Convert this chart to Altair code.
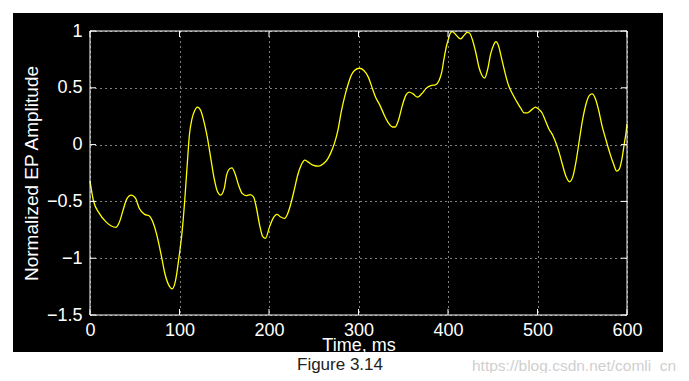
import altair as alt
import pandas as pd

# ---- data ----
time_ms = [0, 3.7, 10.4, 17.9, 29, 33, 37, 41, 46, 51, 55, 61, 66, 70, 74.6, 79.5, 84, 88.8,
           91.8, 95.5, 99.3, 103, 106, 108.6, 111, 114, 117, 120, 123.7, 127.4, 131, 135,
           138.7, 142.5, 146, 150, 152.6, 156.4, 158.6, 162.4, 166, 170, 174.4, 179, 182.7,
           185.7, 189.5, 193, 196, 200.7, 204.5, 209, 212.6, 217.5, 221, 225, 228.6, 232,
           236, 240, 243.5, 249, 255.8, 261, 265.8, 269.5, 273, 277, 280.7, 284.4, 288,
           291.8, 295.5, 301, 306, 311, 315, 319, 324, 328.6, 333.5, 338, 341, 344.6, 349,
           352.8, 356.5, 361, 365.8, 370.6, 375.8, 380.7, 386, 390, 393, 395.5, 398, 400.5,
           402.6, 405, 409, 414, 417.7, 421.4, 424, 427, 431, 434.6, 438, 441, 444, 447.7,
           451.5, 453.4, 456.4, 460, 464, 467.7, 472, 476.7, 481.6, 485, 489, 494, 497.7,
           501.5, 505, 508, 512.6, 517, 520.8, 524.5, 528, 532, 535.7, 539.4, 543, 547,
           550.6, 554.3, 558, 561, 564.7, 568.4, 572, 576.6, 581, 584.8, 588.5, 591.4,
           594.4, 597, 599, 600]
amplitude = [-0.32, -0.49, -0.605, -0.68, -0.728, -0.68, -0.576, -0.48, -0.444, -0.474, -0.561,
             -0.614, -0.626, -0.678, -0.795, -0.97, -1.146, -1.248, -1.27, -1.2, -1.0, -0.76,
             -0.474, -0.18, 0.08, 0.228, 0.30, 0.33, 0.30, 0.20, 0.067, -0.123, -0.298, -0.415,
             -0.444, -0.386, -0.269, -0.21, -0.205, -0.263, -0.357, -0.43, -0.45, -0.44, -0.46,
             -0.547, -0.708, -0.81, -0.825, -0.722, -0.65, -0.614, -0.635, -0.65, -0.605,
             -0.503, -0.386, -0.27, -0.18, -0.137, -0.152, -0.18, -0.19, -0.167, -0.123,
             -0.064, 0.009, 0.126, 0.287, 0.418, 0.52, 0.608, 0.652, 0.672, 0.652, 0.594,
             0.506, 0.418, 0.345, 0.263, 0.19, 0.155, 0.155, 0.213, 0.345, 0.433, 0.462,
             0.447, 0.418, 0.447, 0.497, 0.52, 0.526, 0.564, 0.637, 0.754, 0.857, 0.93, 0.982,
             0.994, 0.965, 0.93, 0.959, 0.988, 0.982, 0.93, 0.813, 0.681, 0.608, 0.585, 0.652,
             0.798, 0.886, 0.906, 0.871, 0.754, 0.623, 0.52, 0.447, 0.38, 0.316, 0.28, 0.28,
             0.31, 0.33, 0.31, 0.28, 0.228, 0.14, 0.082, 0.009, -0.079, -0.18, -0.284, -0.327,
             -0.284, -0.152, 0.053, 0.228, 0.36, 0.433, 0.447, 0.404, 0.30, 0.17, 0.038,
             -0.079, -0.167, -0.234, -0.216, -0.123, 0.009, 0.11, 0.18]
x_ticks = [0, 100, 200, 300, 400, 500, 600]
y_ticks = [-1.5, -1, -0.5, 0, 0.5, 1]
x_title = "Time, ms"
y_title = "Normalized EP Amplitude"
caption = "Figure 3.14"
watermark = "https://blog.csdn.net/comli_cn"

W, H = 537, 284
font = "Liberation Sans"

df = pd.DataFrame({"t": time_ms, "v": amplitude})
xt = pd.DataFrame({"t": x_ticks})
yt = pd.DataFrame({"v": y_ticks})
one = alt.Data(values=[{}])

x_axis = alt.Axis(values=x_ticks, title=x_title, format="d", grid=True, gridColor="white",
                  gridDash=[1, 4], gridWidth=1, domain=False, ticks=False,
                  labelColor="white", labelFont=font, labelFontSize=18, labelPadding=20,
                  labelBaseline="alphabetic", labelFlush=False, labelOverlap=False,
                  titleColor="white", titleFont=font, titleFontSize=18,
                  titleFontWeight="normal", titleY=35, titleBaseline="alphabetic", zindex=1)
y_axis = alt.Axis(values=y_ticks, title=y_title, format="~g", grid=True, gridColor="white",
                  gridDash=[1, 4], gridWidth=1, domain=False, ticks=False,
                  labelColor="white", labelFont=font, labelFontSize=18, labelPadding=8,
                  labelAlign="right", labelBaseline="middle", labelFlush=False,
                  labelOverlap=False, titleColor="white", titleFont=font,
                  titleFontSize=19, titleFontWeight="normal", titleX=-59, titleY=H / 2,
                  titleAngle=270, titleAlign="center", titleBaseline="middle", zindex=1)
xenc = alt.X("t:Q", scale=alt.Scale(domain=[0, 600], nice=False, zero=False), axis=x_axis)
yenc = alt.Y("v:Q", scale=alt.Scale(domain=[-1.5, 1], nice=False, zero=False), axis=y_axis)

bg = alt.Chart(one).mark_rect(color="black").encode(
    x=alt.value(-77), x2=alt.value(573), y=alt.value(-18), y2=alt.value(321))

line = alt.Chart(df).mark_line(color="#ffff00", strokeWidth=1.3, interpolate="monotone").encode(
    x=xenc, y=yenc)

frame = alt.Chart(one).mark_rect(filled=False, stroke="white", strokeWidth=1).encode(
    x=alt.value(0), x2=alt.value(W), y=alt.value(0), y2=alt.value(H))

tick_bottom = alt.Chart(xt).mark_rule(color="white").encode(
    x=xenc, y=alt.value(H - 6), y2=alt.value(H))
tick_top = alt.Chart(xt).mark_rule(color="white").encode(
    x=xenc, y=alt.value(0), y2=alt.value(6))
tick_left = alt.Chart(yt).mark_rule(color="white").encode(
    y=yenc, x=alt.value(0), x2=alt.value(6))
tick_right = alt.Chart(yt).mark_rule(color="white").encode(
    y=yenc, x=alt.value(W - 6), x2=alt.value(W))

cap = alt.Chart(alt.Data(values=[{"s": caption}])).mark_text(
    font=font, fontSize=17, color="#222222", align="center", baseline="middle"
).encode(text="s:N", x=alt.value(250), y=alt.value(334))

wm = alt.Chart(alt.Data(values=[{"s": watermark}])).mark_text(
    font=font, fontSize=15.5, color="#cfcfcf", align="left", baseline="middle"
).encode(text="s:N", x=alt.value(382), y=alt.value(335))

chart = alt.layer(bg, line, frame, tick_bottom, tick_top, tick_left, tick_right, cap, wm).properties(
    width=W, height=H,
    padding={"left": 82, "top": 23, "right": 54, "bottom": 58},
    autosize=alt.AutoSizeParams(type="none"),
    background="white",
).configure_view(strokeWidth=0)

chart.save("out.html", embed_options={"renderer": "svg", "actions": False})
